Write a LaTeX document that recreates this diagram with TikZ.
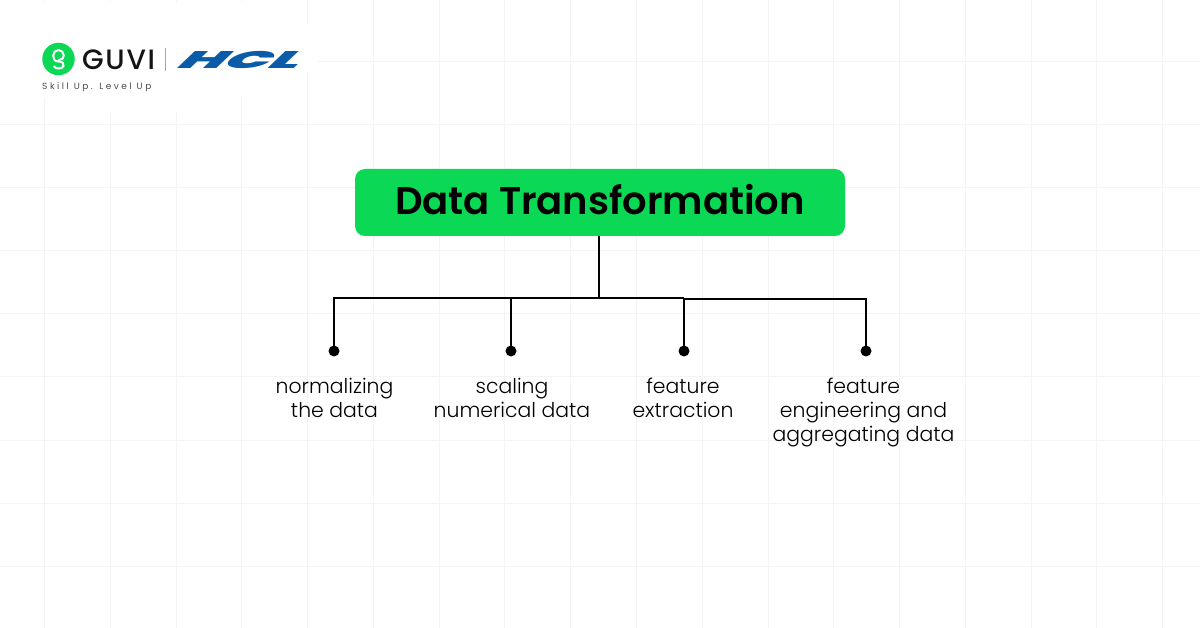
\documentclass[tikz,border=0pt]{standalone}
\usepackage{fontspec}
\setmainfont{Poppins}
\newfontfamily\titlefont{Poppins SemiBold}
\newfontfamily\labelfont{Poppins Light}
\newfontfamily\guvifont{Poppins Medium}
\newfontfamily\hclfont[FakeSlant=.42]{Poppins Black}
\definecolor{guvigreen}{HTML}{0BD955}
\definecolor{gridgray}{HTML}{F4F4F4}
\definecolor{hclblue}{HTML}{0B5CA8}
\tikzset{
  px/.style={x=1pt,y=-1pt},
  gridline/.style={draw=gridgray,line width=1pt},
  titlebox/.style={fill=guvigreen,rounded corners=10pt,minimum width=490pt,minimum height=67pt,inner sep=0pt},
  wire/.style={draw=black,line width=2pt},
  dotmark/.style={circle,fill=black,minimum size=11pt,inner sep=0pt},
  lbl/.style={align=center,font=\labelfont\fontsize{20.4}{24}\selectfont,anchor=north,inner sep=0pt,text=black},
}
\begin{document}
\begin{tikzpicture}[px]
\useasboundingbox (0,0) rectangle (1200,628);
\fill[white] (0,0) rectangle (1200,628);
\foreach \x in {44,110,176,241,307,373,439,504,570,636,702,768,833,899,965,1031,1096,1162}
  \draw[gridline] (\x,0) -- (\x,628);
\foreach \y in {62,125,188,251,314,377,440,503,566}
  \draw[gridline] (0,\y) -- (1200,\y);
\fill[white] (0,2) rectangle (300,98);
\fill[white] (300,25) rectangle (318,73);
\fill[white] (48,98) rectangle (240,112);
% logo
\node[circle,fill=guvigreen,minimum size=32.5pt,inner sep=0pt] (gcircle) at (58.5,59) {};
\draw[white,line width=2pt,line cap=round] (58.5,61.5) .. controls (54,61.5) and (53.2,58) .. (53.2,55.5)
  .. controls (53.2,52.5) and (55.5,50) .. (58.5,50) .. controls (61.5,50) and (63.8,52.5) .. (63.8,55.5)
  .. controls (63.8,58) and (62,60) .. (59,60);
\draw[white,line width=2pt,line cap=round] (58.5,61.5) .. controls (63,61.5) and (64.2,64) .. (63.5,66)
  .. controls (62.5,69) and (56,69.5) .. (54,66.5);
\node[inner sep=0pt,anchor=west,font=\guvifont\fontsize{28}{28}\selectfont,text=black!92] (guvi) at (82,59.5) {\addfontfeature{LetterSpace=6}GUVI};
\draw[draw=black!35,line width=1pt] (165.5,48) -- (165.5,71);
\node[inner sep=0pt,anchor=center,font=\hclfont\fontsize{24}{24}\selectfont,text=hclblue,xscale=2.5] (hcl) at (234.5,59.5) {HCL};
\node[inner sep=0pt,anchor=west,font=\fontsize{9}{10}\selectfont,text=black!70] (tag) at (42,87) {\addfontfeature{LetterSpace=28}Skill Up. Level Up};
% title
\node[titlebox] (title) at (600,202.5) {\raisebox{5.5pt}{\titlefont\fontsize{38.5}{40}\selectfont Data Transformation}};
% connectors
\coordinate (hub) at (599,298.4);
\coordinate (hubr) at (684,299.2);
\node[dotmark] (d1) at (334,351) {};
\node[dotmark] (d2) at (511,351) {};
\node[dotmark] (d3) at (684,351) {};
\node[dotmark] (d4) at (866,351) {};
\draw[wire] (hub |- title.south) -- (hub);
\draw[wire] (d1.center) -- (d1 |- hub) -- (d3 |- hub);
\draw[wire] (hubr) -- (d4 |- hubr) -- (d4.center);
\draw[wire] (d2.center) -- (d2 |- hub);
\draw[wire] (d3.center) -- (d3 |- hub);
% labels
\node[lbl] (l1) at (334.5,377.5) {normalizing\\the data};
\node[lbl] (l2) at (512,377.5) {scaling\\numerical data};
\node[lbl] (l3) at (683,377.5) {feature\\extraction};
\node[lbl] (l4) at (863.5,377.5) {feature\\engineering and\\aggregating data};
\end{tikzpicture}
\end{document}
